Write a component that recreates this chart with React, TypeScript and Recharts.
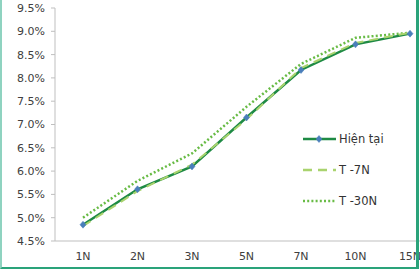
import React from "react";
import { LineChart, Line, XAxis, YAxis } from "recharts";

const terms = ["1N", "2N", "3N", "5N", "7N", "10N", "15N"];
const current = [4.85, 5.61, 6.1, 7.15, 8.17, 8.72, 8.95];
const week = [4.82, 5.57, 6.14, 7.11, 8.21, 8.75, 8.97];
const month = [5.0, 5.79, 6.38, 7.38, 8.3, 8.86, 8.97];
const yTicks = [4.5, 5, 5.5, 6, 6.5, 7, 7.5, 8, 8.5, 9, 9.5];

const seriesNames = { current: "Hiện tại", week: "T -7N", month: "T -30N" };

const data = terms.map((t, i) => ({
    term: t,
    current: current[i],
    week: week[i],
    month: month[i]
}));

const FONT = "'DejaVu Sans', Verdana, sans-serif";

const Diamond = (props: any) => {
    const { cx, cy } = props;
    if (cx == null || cy == null) return null;
    return (
        <path
            d={`M${cx},${cy - 3.5} L${cx + 3},${cy} L${cx},${cy + 3.5} L${cx - 3},${cy} Z`}
            fill="#4a7ebb"
            stroke="#4a7ebb"
            strokeWidth={0.5}
        />
    );
};

// legend sits to the right of the plot, independent of the chart's layout
const LegendBox = () => {
    const rows = [
        { name: seriesNames.current, stroke: "#1e8a44", dash: undefined, marker: true },
        { name: seriesNames.week, stroke: "#a9d36e", dash: "9 6" },
        { name: seriesNames.month, stroke: "#68bb45", dash: "2 2.2" }
    ];
    return (
        <div
            style={{
                position: "absolute",
                left: 303,
                top: 123,
                fontFamily: FONT,
                fontSize: 11.5,
                color: "#333"
            }}
        >
            {rows.map((r) => (
                <div key={r.name} style={{ display: "flex", alignItems: "center", height: 31 }}>
                    <svg width={35} height={10}>
                        <line
                            x1={0}
                            y1={5}
                            x2={33}
                            y2={5}
                            stroke={r.stroke}
                            strokeWidth={2.5}
                            strokeDasharray={r.dash}
                        />
                        {r.marker && <Diamond cx={16} cy={5} />}
                    </svg>
                    <span style={{ marginLeft: 1 }}>{r.name}</span>
                </div>
            ))}
        </div>
    );
};

const App = () => {
    return (
        <div
            style={{
                position: "absolute",
                left: 0,
                top: 0,
                width: 420,
                height: 272,
                overflow: "hidden",
                background: "#fff"
            }}
        >
            <LineChart
                width={437}
                height={272}
                data={data}
                margin={{ top: 8, right: 0, bottom: 0, left: 0 }}
            >
                <XAxis
                    dataKey="term"
                    tickLine={false}
                    tickSize={8}
                    tickMargin={3}
                    height={31}
                    padding={{ left: 28, right: 27 }}
                    stroke="#bfbfbf"
                    tick={{ fill: "#404040", fontSize: 11, fontFamily: FONT }}
                />
                <YAxis
                    domain={[4.5, 9.5]}
                    ticks={yTicks}
                    interval={0}
                    width={55}
                    tickSize={4}
                    tickMargin={6}
                    stroke="#bfbfbf"
                    tickFormatter={(v: number) => `${v.toFixed(1)}%`}
                    tick={{ fill: "#404040", fontSize: 11, fontFamily: FONT }}
                />
                <Line
                    dataKey="month"
                    name={seriesNames.month}
                    stroke="#68bb45"
                    strokeWidth={2.5}
                    strokeDasharray="2 2.2"
                    dot={false}
                    isAnimationActive={false}
                />
                <Line
                    dataKey="current"
                    name={seriesNames.current}
                    stroke="#1e8a44"
                    strokeWidth={2.5}
                    dot={<Diamond />}
                    activeDot={false}
                    isAnimationActive={false}
                />
                <Line
                    dataKey="week"
                    name={seriesNames.week}
                    stroke="#a9d36e"
                    strokeWidth={2}
                    strokeDasharray="9 6"
                    dot={false}
                    isAnimationActive={false}
                />
            </LineChart>
            <LegendBox />
            <div
                style={{
                    position: "absolute",
                    left: 0,
                    top: -4,
                    width: 414,
                    height: 271,
                    borderLeft: "2px solid #8fd3c0",
                    borderRight: "3px solid #2aa37a",
                    borderBottom: "2px solid #2aa37a",
                    pointerEvents: "none"
                }}
            />
        </div>
    );
};

export default App;
